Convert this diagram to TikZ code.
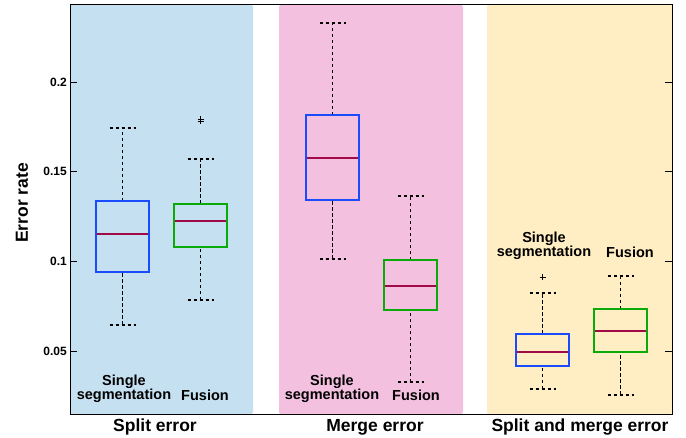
\documentclass[tikz,border=0pt]{standalone}
\usepackage{fontspec}
\setmainfont{Liberation Sans}
\usetikzlibrary{positioning}

\definecolor{splitbg}{RGB}{197,224,241}
\definecolor{mergebg}{RGB}{244,192,223}
\definecolor{bothbg}{RGB}{255,237,195}
\definecolor{singlecol}{RGB}{25,75,255}
\definecolor{fusioncol}{RGB}{10,170,10}
\definecolor{medcol}{RGB}{160,10,70}

% x, lower whisker, q1, median, q3, upper whisker, colour
\newcommand{\errbox}[7]{%
  \draw[whisker] (#1,#2) -- (#1,#3);
  \draw[whisker] (#1,#5) -- (#1,#6);
  \draw[whisker] (#1-13,#2) -- (#1+13,#2);
  \draw[whisker] (#1-13,#6) -- (#1+13,#6);
  \draw[boxline, draw=#7] (#1-26.5,#3) rectangle (#1+26.5,#5);
  \draw[median] (#1-25.5,#4) -- (#1+25.5,#4);
}
\newcommand{\outlier}[2]{%
  \draw[line width=0.6pt] (#1,#2) ++(-3pt,0) -- ++(6pt,0) (#1,#2) ++(0,-3pt) -- ++(0,6pt);
}

\begin{document}
\begin{tikzpicture}[
    x=1pt, y=1pt,
    panel/.style={rounded corners=2pt},
    whisker/.style={line width=1.9pt, dash pattern=on 3.5pt off 2.5pt},
    boxline/.style={line width=1.8pt},
    median/.style={line width=1.8pt, medcol},
    group/.style={font=\fontsize{14.5}{14}\selectfont\bfseries, align=center, inner sep=0pt},
    axislabel/.style={font=\fontsize{17.5}{20}\selectfont\bfseries, inner sep=0pt},
    ticklabel/.style={font=\fontsize{12}{14}\selectfont\bfseries, anchor=east, inner sep=0pt}
  ]
  \useasboundingbox (0,0) rectangle (686,437);

  % background bands
  \fill[splitbg, panel] (70,23) rectangle (253,432);
  \fill[mergebg, panel] (279,23) rectangle (463,432);
  \fill[bothbg, panel] (487,23) rectangle (672,432);

  % data part: y in error-rate units
  \begin{scope}[y=1794pt, yshift=-3.7pt]
    \foreach \v [count=\i] in {0.05, 0.1, 0.15, 0.2} {
      \draw (70,\v) -- (77,\v);
      \draw (665,\v) -- (672,\v);
      \node[ticklabel] (tick\i) at (67,\v) {\v};
    }

    % split error
    \errbox{122.5}{0.0645}{0.0940}{0.1152}{0.1336}{0.1743}{singlecol}
    \errbox{200.5}{0.0784}{0.1080}{0.1225}{0.1320}{0.1570}{fusioncol}
    \outlier{200.5}{0.1782}
    \outlier{200.5}{0.1794}

    % merge error
    \errbox{332.5}{0.1013}{0.1342}{0.1576}{0.1815}{0.2328}{singlecol}
    \errbox{410.5}{0.0327}{0.0729}{0.0862}{0.1007}{0.1364}{fusioncol}

    % split and merge error
    \errbox{542.5}{0.0288}{0.0416}{0.0494}{0.0595}{0.0823}{singlecol}
    \errbox{620.5}{0.0255}{0.0494}{0.0611}{0.0734}{0.0918}{fusioncol}
    \outlier{542.5}{0.0912}
  \end{scope}

  % axes frame
  \draw[line width=1pt] (70,23) rectangle (672,432);

  % group labels
  \node[group] (splitsingle) at (124,48) {Single\\segmentation};
  \node[group] (splitfusion) at (205,42) {Fusion};
  \node[group] (mergesingle) at (332,48) {Single\\segmentation};
  \node[group] (mergefusion) at (416,42) {Fusion};
  \node[group] (bothsingle) at (544,191) {Single\\segmentation};
  \node[group] (bothfusion) at (630,185) {Fusion};

  % axis labels
  \node[axislabel] (splitlab) at (155,10) {Split error};
  \node[axislabel] (mergelab) at (375,10) {Merge error};
  \node[axislabel] (bothlab) at (580,10) {Split and merge error};
  \node[axislabel, rotate=90] (ylab) at (22,234) {Error rate};
\end{tikzpicture}
\end{document}
